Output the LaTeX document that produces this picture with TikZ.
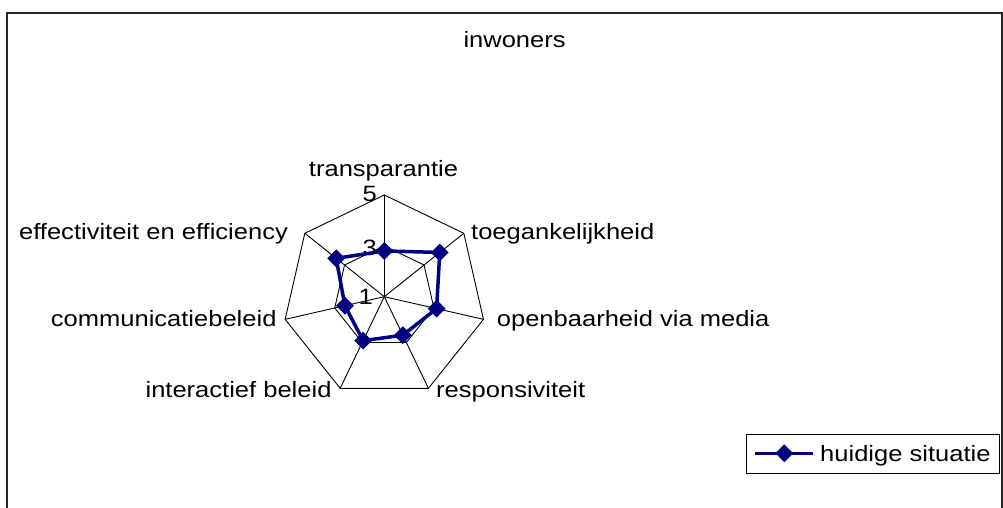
\documentclass[tikz,border=0pt]{standalone}
\usepackage{fontspec}
\setmainfont[FakeStretch=1.15]{Liberation Sans}
\usetikzlibrary{shapes.geometric}
\definecolor{navy}{RGB}{0,0,128}
\begin{document}
\begin{tikzpicture}[x=1pt,y=1pt,
  lbl/.style={inner sep=0pt, font=\fontsize{22.2}{26}\selectfont},
  gridline/.style={line width=0.9pt, black},
  dataline/.style={line width=3.5pt, navy, line join=round},
  dmk/.style={diamond, fill=navy, inner sep=0pt, minimum width=18pt, minimum height=18pt}]
\useasboundingbox (0,0) rectangle (1003,508);
\clip (0,0) rectangle (1003,508);
\draw[line width=1.5pt, black!85] (7,-20) rectangle (1002,495);
\coordinate (c) at (384.3,211.3);
\foreach \k in {0,...,6} {
  \path (c) ++({90-\k*360/7}:101.7) coordinate (o\k);
  \path (c) ++({90-\k*360/7}:50.85) coordinate (m\k);
}
\draw[gridline] (o0) -- (o1) -- (o2) -- (o3) -- (o4) -- (o5) -- (o6) -- cycle;
\draw[gridline] (m0) -- (m1) -- (m2) -- (m3) -- (m4) -- (m5) -- (m6) -- cycle;
\foreach \k in {0,...,6} { \draw[gridline] (c) -- (o\k); }
% axis labels
\node[lbl, anchor=east] (t5) at (377,314) {5};
\node[lbl, anchor=east] (t3) at (377,260.5) {3};
\node[lbl, anchor=east] (t1) at (373,211) {1};
% data
\foreach \v [count=\i from 0] in {2.8,3.79,3.11,2.68,2.92,2.59,3.42} {
  \path (c) ++({90-\i*360/7}:{(\v-1)*25.425}) coordinate (p\i);
}
\draw[dataline] (p0) -- (p1) -- (p2) -- (p3) -- (p4) -- (p5) -- (p6) -- cycle;
\foreach \k in {0,...,6} { \node[dmk] (d\k) at (p\k) {}; }
% category labels
\node[lbl, anchor=base] (l0) at (383.5,331) {transparantie};
\node[lbl, anchor=base west] (l1) at (471,268) {toegankelijkheid};
\node[lbl, anchor=base west] (l2) at (496.7,181) {openbaarheid via media};
\node[lbl, anchor=base west] (l3) at (436,110) {responsiviteit};
\node[lbl, anchor=base east] (l4) at (331.7,110) {interactief beleid};
\node[lbl, anchor=base east] (l5) at (276.7,181) {communicatiebeleid};
\node[lbl, anchor=base east] (l6) at (288,268) {effectiviteit en efficiency};
% title
\node[lbl, anchor=base west] (title) at (463.3,460.7) {inwoners};
% legend
\draw[line width=1pt, black] (746.7,34.7) rectangle (999.3,73);
\coordinate (la) at (755,54.7);
\coordinate (lb) at (813.3,54.7);
\draw[dataline] (la) -- (lb);
\node[dmk] (lm) at (784.3,54.7) {};
\node[lbl, anchor=base west] (lt) at (820,46.3) {huidige situatie};
\end{tikzpicture}
\end{document}
